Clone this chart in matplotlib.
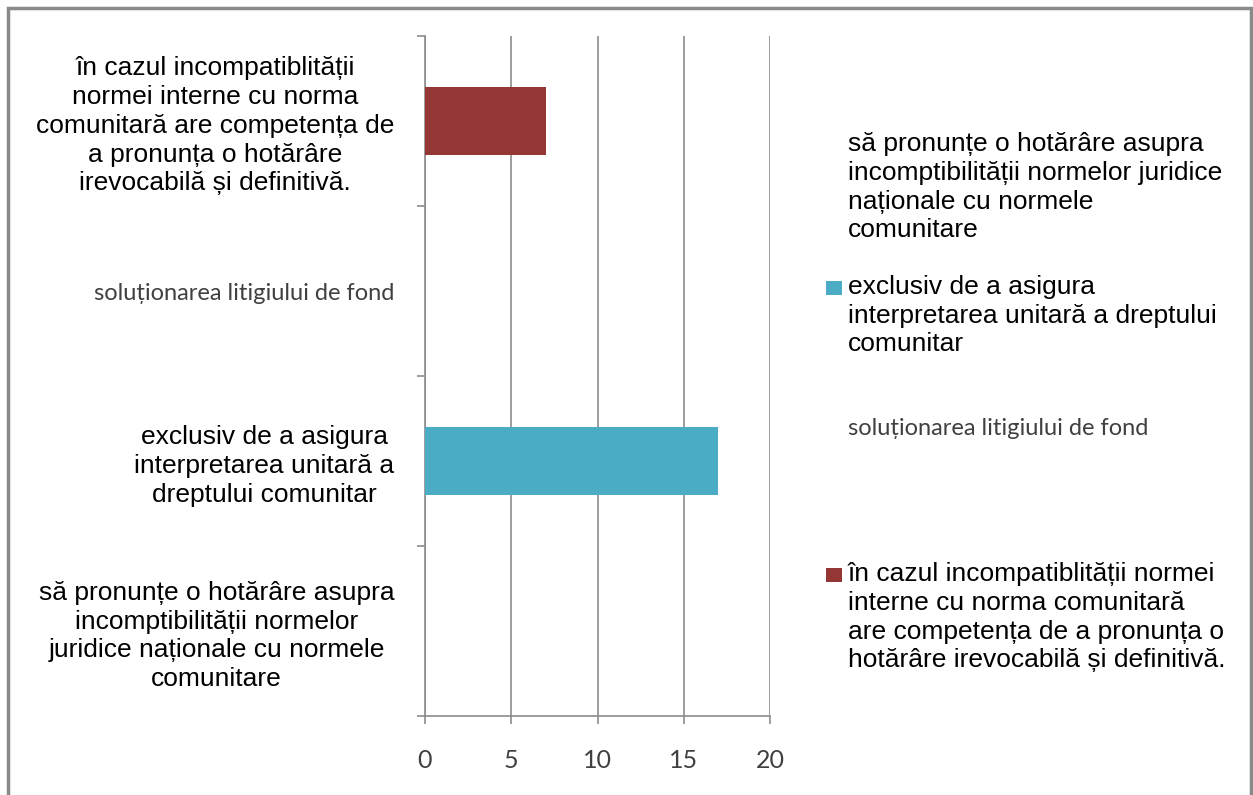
import matplotlib.pyplot as plt
from matplotlib.patches import Rectangle

# categories bottom -> top (as drawn on the y axis)
categorii = [
    "să pronunțe o hotărâre asupra\nincomptibilității normelor\njuridice naționale cu normele\ncomunitare",
    "exclusiv de a asigura\ninterpretarea unitară a\ndreptului comunitar",
    "soluționarea litigiului de fond",
    "în cazul incompatiblității\nnormei interne cu norma\ncomunitară are competența de\na pronunța o hotărâre\nirevocabilă și definitivă.",
]
valori = [0, 17, 0, 7]

# legend texts (top -> bottom as in the picture)
legenda = [
    "să pronunțe o hotărâre asupra\nincomptibilității normelor juridice\nnaționale cu normele\ncomunitare",
    "exclusiv de a asigura\ninterpretarea unitară a dreptului\ncomunitar",
    "soluționarea litigiului de fond",
    "în cazul incompatiblității normei\ninterne cu norma comunitară\nare competența de a pronunța o\nhotărâre irevocabilă și definitivă.",
]
culori = ["white", "#4BACC6", "white", "#943634"]
xticks = [0, 5, 10, 15, 20]

W, H = 1253, 795
fig = plt.figure(figsize=(W / 100, H / 100), dpi=100)
fig.patch.set_facecolor("white")
ax = fig.add_axes([425 / W, 1 - 716 / H, 345 / W, (716 - 36) / H])

gri = "#8c8c8c"
gri_text = "#404040"
bare = []
for i, v in enumerate(valori):
    b = ax.barh(i, v, height=0.4, color=culori[i], zorder=3)
    bare.append(b)

ax.set_xlim(0, 20)
ax.set_ylim(-0.5, 3.5)
ax.set_xticks(xticks)
ax.set_xticklabels([str(t) for t in xticks], family="Lato", fontsize=18, color=gri_text)
ax.xaxis.grid(True, color=gri, linewidth=1.2, zorder=0)
ax.tick_params(axis="x", length=6, width=1.2, color=gri, pad=18)

ax.set_yticks([-0.5, 0.5, 1.5, 2.5, 3.5])
ax.set_yticklabels([])
ax.tick_params(axis="y", length=6, width=1.2, color=gri)
ax.set_yticks(range(4), minor=True)
ax.set_yticklabels(categorii, minor=True, multialignment="center", linespacing=1.25,
                   family="Liberation Sans", fontsize=19, color="black")
ax.tick_params(axis="y", which="minor", length=0, pad=22)
lbl = ax.get_yticklabels(minor=True)
lbl[2].set_family("Lato")
lbl[2].set_fontsize(17)
lbl[2].set_color(gri_text)

for s in ["top", "right"]:
    ax.spines[s].set_visible(False)
for s in ["left", "bottom"]:
    ax.spines[s].set_color(gri)
    ax.spines[s].set_linewidth(1.2)

# legend: markers through the library, text next to them, first line aligned
ordine = [0, 1, 2, 3]
y_text = [132, 275, 418, 562]
for k, y in zip(ordine, y_text):
    fig.legend([bare[k]], [""], loc="center left",
               bbox_to_anchor=(826 / W, 1 - (y + 14) / H),
               frameon=False, handlelength=1, handleheight=1,
               handletextpad=0, borderaxespad=0, borderpad=0,
               prop={"size": 11.5})
    if k == 2:
        fig.text(848 / W, 1 - y / H, legenda[k], va="top", ha="left",
                 family="Lato", fontsize=17, color=gri_text)
    else:
        fig.text(848 / W, 1 - y / H, legenda[k], va="top", ha="left",
                 family="Liberation Sans", fontsize=19, color="black",
                 linespacing=1.25)

fig.add_artist(Rectangle((8 / W, -0.05), 1243 / W, 1.05 - 8 / H,
                         transform=fig.transFigure, fill=False,
                         edgecolor="#8a8a8a", linewidth=2.5))

fig.savefig("out.png", dpi=100)
